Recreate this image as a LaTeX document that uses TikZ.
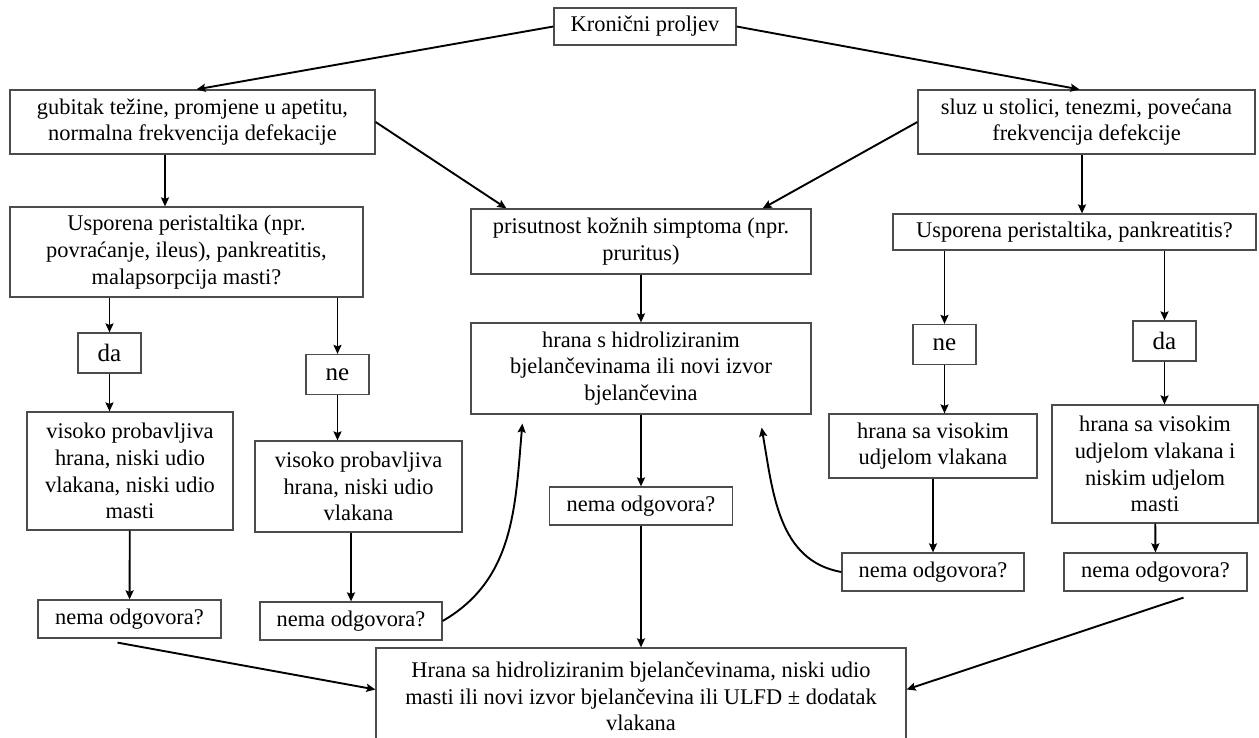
\documentclass[tikz,border=0pt]{standalone}
\usepackage{fontspec}
\setmainfont{Liberation Serif}
\usetikzlibrary{arrows.meta}

\begin{document}
\begin{tikzpicture}[x=1pt, y=-1pt, >={Stealth[length=9pt, width=8pt, inset=1.5pt]},
        every node/.style={draw=black!70, line width=1.2pt, align=center, inner sep=0pt,
            font=\fontsize{22.4}{26.7}\selectfont},
        yesno/.style={minimum width=63pt, minimum height=40pt, font=\fontsize{25}{30}\selectfont},
        arr/.style={->, line width=1.9pt}]
        \useasboundingbox (0,0) rectangle (1259,738);

        % Nodes
        \node[minimum width=182pt, minimum height=37pt] (root) at (645,26.5) {Kronični proljev};
        \node[minimum width=365pt, minimum height=64pt] (L1) at (192.5,122) {gubitak težine, promjene u apetitu,\\normalna frekvencija defekacije};
        \node[minimum width=337pt, minimum height=64pt] (R1) at (1086.5,122) {sluz u stolici, tenezmi, povećana\\frekvencija defekcije};
        \node[minimum width=353pt, minimum height=90pt] (L2) at (186.5,252) {Usporena peristaltika (npr.\\povraćanje, ileus), pankreatitis,\\malapsorpcija masti?};
        \node[minimum width=340pt, minimum height=65pt] (C2) at (641,241.5) {prisutnost kožnih simptoma (npr.\\pruritus)};
        \node[minimum width=363pt, minimum height=36pt] (R2) at (1074.5,232) {Usporena peristaltika, pankreatitis?};
        \node[yesno] (daL) at (109.5,353) {da};
        \node[yesno] (neL) at (337.5,374.5) {ne};
        \node[below of=C2, node distance=127pt, minimum width=340pt, minimum height=91pt] (C3) {hrana s hidroliziranim\\bjelančevinama ili novi izvor\\bjelančevina};
        \node[yesno] (neR) at (944.5,344.5) {ne};
        \node[yesno] (daR) at (1164.5,341) {da};
        \node[minimum width=206pt, minimum height=118pt] (L4) at (130,471) {visoko probavljiva\\hrana, niski udio\\vlakana, niski udio\\masti};
        \node[minimum width=207pt, minimum height=91pt] (L4b) at (358.5,486.5) {visoko probavljiva\\hrana, niski udio\\vlakana};
        \node[minimum width=208pt, minimum height=64pt] (R4) at (933,446) {hrana sa visokim\\udjelom vlakana};
        \node[minimum width=206pt, minimum height=118pt] (R4b) at (1155,464) {hrana sa visokim\\udjelom vlakana i\\niskim udjelom\\masti};
        \node[below of=C3, node distance=137.5pt, minimum width=183pt, minimum height=38pt] (nemaC) {nema odgovora?};
        \node[minimum width=183pt, minimum height=38pt] (nemaL) at (129.5,619) {nema odgovora?};
        \node[minimum width=182pt, minimum height=38pt] (nemaLb) at (351,621) {nema odgovora?};
        \node[minimum width=182pt, minimum height=38pt] (nemaR) at (933,572) {nema odgovora?};
        \node[minimum width=183pt, minimum height=38pt] (nemaRb) at (1155.5,572) {nema odgovora?};
        \node[below of=nemaC, node distance=190.5pt, minimum width=530pt, minimum height=97pt] (bottom) {Hrana sa hidroliziranim bjelančevinama, niski udio\\masti ili novi izvor bjelančevina ili ULFD ± dodatak\\vlakana};

        % Edges
        \draw[arr] (root.west) -- ([xshift=4pt]L1.north);
        \draw[arr] (root.east) -- ([xshift=-7pt]R1.north);
        \draw[arr] ([xshift=-27.5pt]L1.south) -- ([xshift=-27.5pt]L1.south |- L2.north);
        \draw[arr] (L1.east) -- ([xshift=36pt]C2.north west);
        \draw[arr] (R1.west) -- ([xshift=-49pt]C2.north east);
        \draw[arr] ([xshift=-4.5pt]R1.south) -- ([xshift=-4.5pt]R1.south |- R2.north);
        \draw[arr] (daL.north |- L2.south) -- (daL);
        \draw[arr] (neL.north |- L2.south) -- (neL);
        \draw[arr] (daL) -- (daL |- L4.north);
        \draw[arr] (neL) -- (neL |- L4b.north);
        \draw[arr] (L4) -- (nemaL);
        \draw[arr] (nemaLb.north |- L4b.south) -- (nemaLb);
        \draw[arr] (C2) -- (C3);
        \draw[arr] (C3) -- (nemaC);
        \draw[arr] (nemaC) -- (bottom);
        \draw[arr] (neR.north |- R2.south) -- (neR);
        \draw[arr] (daR.north |- R2.south) -- (daR);
        \draw[arr] (neR) -- (neR |- R4.north);
        \draw[arr] (daR) -- (daR |- R4b.north);
        \draw[arr] (R4) -- (nemaR);
        \draw[arr] (R4b) -- (nemaRb);
        \draw[arr] (nemaLb.east) to[out=30, in=-95] ([xshift=52pt, yshift=-9pt]C3.south west);
        \draw[arr] (nemaR.west) to[out=170, in=-80] ([xshift=-50pt, yshift=-13pt]C3.south east);
        \draw[arr] ([xshift=-12pt, yshift=-4pt]nemaL.south) -- ([yshift=7pt]bottom.west);
        \draw[arr] ([xshift=28pt, yshift=-6pt]nemaRb.south) -- ([yshift=7pt]bottom.east);
    \end{tikzpicture}
\end{document}
